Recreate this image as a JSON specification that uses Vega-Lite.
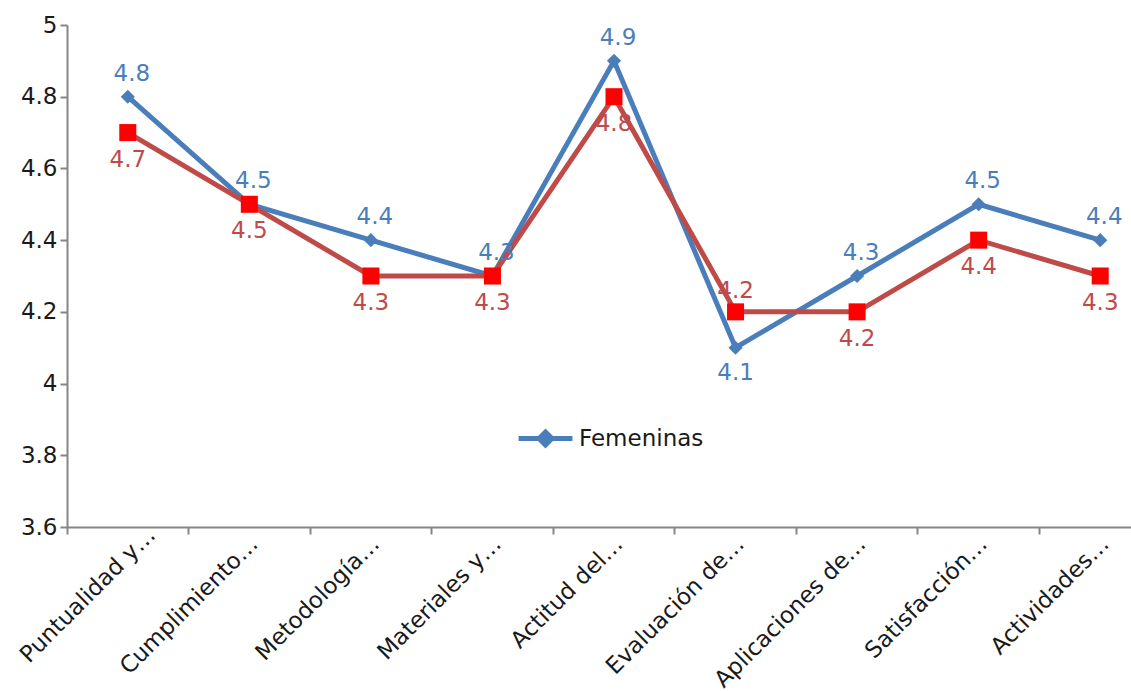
{
  "$schema": "https://vega.github.io/schema/vega-lite/v6.json",
  "width": 1064,
  "height": 502,
  "autosize": {"type": "none"},
  "padding": {"left": 67, "top": 25, "right": 0, "bottom": 164},
  "background": "white",
  "config": {
    "view": {"stroke": null},
    "font": "DejaVu Sans",
    "axis": {
      "domainColor": "#868686",
      "domainWidth": 2,
      "tickColor": "#868686",
      "tickWidth": 2,
      "tickSize": 7,
      "labelColor": "#1a1a1a",
      "labelFont": "DejaVu Sans",
      "labelFontSize": 23,
      "grid": false,
      "title": null
    }
  },
  "data": {
    "values": [
      {"cat": "Puntualidad y…", "serie": "Femeninas", "valor": 4.8},
      {"cat": "Cumplimiento…", "serie": "Femeninas", "valor": 4.5},
      {"cat": "Metodología…", "serie": "Femeninas", "valor": 4.4},
      {"cat": "Materiales y…", "serie": "Femeninas", "valor": 4.3},
      {"cat": "Actitud del…", "serie": "Femeninas", "valor": 4.9},
      {"cat": "Evaluación de…", "serie": "Femeninas", "valor": 4.1},
      {"cat": "Aplicaciones de…", "serie": "Femeninas", "valor": 4.3},
      {"cat": "Satisfacción…", "serie": "Femeninas", "valor": 4.5},
      {"cat": "Actividades…", "serie": "Femeninas", "valor": 4.4},
      {"cat": "Puntualidad y…", "serie": "Masculinos", "valor": 4.7},
      {"cat": "Cumplimiento…", "serie": "Masculinos", "valor": 4.5},
      {"cat": "Metodología…", "serie": "Masculinos", "valor": 4.3},
      {"cat": "Materiales y…", "serie": "Masculinos", "valor": 4.3},
      {"cat": "Actitud del…", "serie": "Masculinos", "valor": 4.8},
      {"cat": "Evaluación de…", "serie": "Masculinos", "valor": 4.2},
      {"cat": "Aplicaciones de…", "serie": "Masculinos", "valor": 4.2},
      {"cat": "Satisfacción…", "serie": "Masculinos", "valor": 4.4},
      {"cat": "Actividades…", "serie": "Masculinos", "valor": 4.3}
    ]
  },
  "encoding": {
    "x": {
      "field": "cat",
      "type": "nominal",
      "sort": null,
      "bandPosition": 0.5,
      "scale": {"type": "band", "range": [0, 1094], "paddingInner": 0, "paddingOuter": 0},
      "axis": {
        "bandPosition": 0,
        "labelOffset": {"condition": {"test": "datum.value === 'Puntualidad y…'", "value": 24}, "value": 5},
        "labelPadding": {"condition": {"test": "datum.value === 'Puntualidad y…'", "value": -3}, "value": 6},
        "labelAngle": -45,
        "labelAlign": "right",
        "labelBaseline": "middle",
        "labelLimit": 0
      }
    },
    "y": {
      "field": "valor",
      "type": "quantitative",
      "scale": {"domain": [3.6, 5], "nice": false, "zero": false},
      "axis": {"values": [3.6, 3.8, 4, 4.2, 4.4, 4.6, 4.8, 5], "format": ".2~f", "labelPadding": 3}
    }
  },
  "layer": [
    {
      "mark": {"type": "line", "strokeWidth": 5},
      "encoding": {
        "color": {
          "field": "serie",
          "type": "nominal",
          "scale": {"domain": ["Femeninas", "Masculinos"], "range": ["#4A7EBB", "#BE4B48"]},
          "legend": {
            "values": ["Femeninas"],
            "title": null,
            "orient": "none",
            "legendX": 449,
            "legendY": 384,
            "symbolType": "M-1,0H1M0,-0.24L0.24,0L0,0.24L-0.24,0Z",
            "symbolSize": 2900,
            "symbolStrokeWidth": 5,
            "symbolFillColor": "#4A7EBB",
            "labelFontSize": 23,
            "labelFont": "DejaVu Sans",
            "labelColor": "#1a1a1a",
            "labelOffset": 4
          }
        }
      }
    },
    {
      "transform": [{"filter": "datum.serie === 'Femeninas'"}],
      "mark": {"type": "point", "shape": "diamond", "filled": true, "size": 200, "color": "#4A7EBB", "opacity": 1}
    },
    {
      "transform": [{"filter": "datum.serie === 'Masculinos'"}],
      "mark": {"type": "point", "shape": "square", "filled": true, "size": 290, "color": "#FF0000", "opacity": 1}
    },
    {
      "transform": [{"filter": "datum.serie === 'Femeninas' && datum.cat !== 'Evaluación de…'"}],
      "mark": {"type": "text", "dy": -23, "dx": 4, "fontSize": 23, "color": "#4A7EBB", "font": "DejaVu Sans"},
      "encoding": {"text": {"field": "valor", "type": "quantitative", "format": ".1f"}}
    },
    {
      "transform": [{"filter": "datum.serie === 'Femeninas' && datum.cat === 'Evaluación de…'"}],
      "mark": {"type": "text", "dy": 25, "fontSize": 23, "color": "#4A7EBB", "font": "DejaVu Sans"},
      "encoding": {"text": {"field": "valor", "type": "quantitative", "format": ".1f"}}
    },
    {
      "transform": [{"filter": "datum.serie === 'Masculinos' && datum.cat !== 'Evaluación de…'"}],
      "mark": {"type": "text", "dy": 27, "fontSize": 23, "color": "#BE4B48", "font": "DejaVu Sans"},
      "encoding": {"text": {"field": "valor", "type": "quantitative", "format": ".1f"}}
    },
    {
      "transform": [{"filter": "datum.serie === 'Masculinos' && datum.cat === 'Evaluación de…'"}],
      "mark": {"type": "text", "dy": -21, "fontSize": 23, "color": "#BE4B48", "font": "DejaVu Sans"},
      "encoding": {"text": {"field": "valor", "type": "quantitative", "format": ".1f"}}
    }
  ]
}
